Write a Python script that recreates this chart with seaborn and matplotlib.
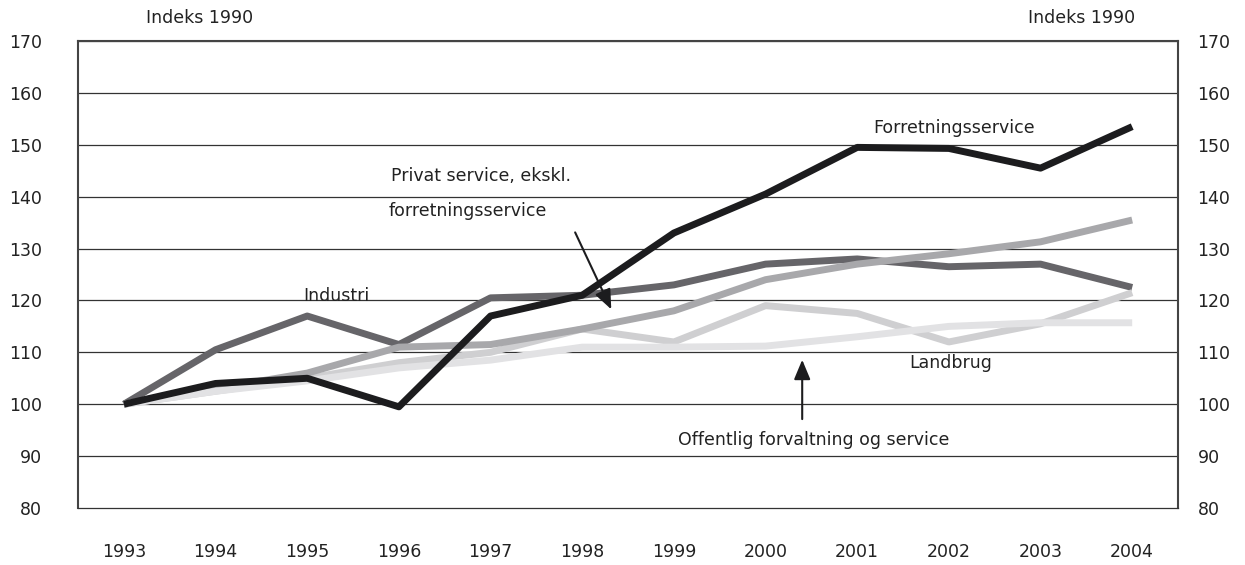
import pandas as pd
import matplotlib.pyplot as plt
import seaborn as sns

# Index 1990 = 100
years = [1993, 1994, 1995, 1996, 1997, 1998, 1999, 2000, 2001, 2002, 2003, 2004]
industri = [100, 110.5, 117, 111.5, 120.5, 121, 123, 127, 128, 126.5, 127, 122.5]
landbrug = [100, 102.5, 105, 108, 110, 114.5, 112, 119, 117.5, 112, 115.5, 121.5]
privat = [100, 103, 106, 111, 111.5, 114.5, 118, 124, 127, 129, 131.3, 135.5]
offentlig = [100, 102.5, 104.5, 107, 108.5, 111, 111, 111.2, 113, 115, 115.7, 115.7]
forretning = [100, 104, 105, 99.5, 117, 121, 133, 140.5, 149.5, 149.3, 145.5, 153.5]

series = {
    "Industri": industri,
    "Landbrug": landbrug,
    "Privat service, ekskl. forretningsservice": privat,
    "Offentlig forvaltning og service": offentlig,
    "Forretningsservice": forretning,
}
colors = ["#666569", "#cfcfd1", "#a8a8ab", "#e2e2e4", "#1c1c1e"]

df = pd.concat(
    [pd.DataFrame({"year": years, "value": vals, "series": name}) for name, vals in series.items()],
    ignore_index=True,
)

sns.set_style("white")
plt.rcParams["font.family"] = ["DejaVu Sans"]
FS = 12.5
TXT = "#222222"

fig = plt.figure(figsize=(12.45, 5.65), dpi=100)
ax = fig.add_axes([0.0627, 0.1009, 0.8835, 0.8265])

sns.lineplot(data=df, x="year", y="value", hue="series", palette=colors,
             linewidth=5, legend=False, ax=ax, solid_capstyle="butt")

ax.set_xlim(1992.5, 2004.5)
ax.set_ylim(80, 170)
ax.set_yticks(range(80, 171, 10))
ax.set_xticks(years)
ax.set_xlabel("")
ax.set_ylabel("")
for y in range(90, 171, 10):
    ax.axhline(y, color="#333333", linewidth=0.9, zorder=0)

for side in ["top", "left", "right"]:
    ax.spines[side].set_color("#444444")
    ax.spines[side].set_linewidth(1.5)
ax.spines["bottom"].set_color("#333333")
ax.spines["bottom"].set_linewidth(0.9)

ax.tick_params(axis="y", length=0, labelsize=FS, pad=26, labelcolor=TXT)
ax.tick_params(axis="x", length=0, labelsize=FS, pad=25, labelcolor=TXT)

# right-hand axis labels (same scale)
ax2 = ax.twinx()
ax2.set_ylim(ax.get_ylim())
ax2.set_yticks(range(80, 171, 10))
ax2.tick_params(axis="y", length=0, labelsize=FS, pad=14, labelcolor=TXT)
for side in ax2.spines.values():
    side.set_visible(False)
ax2.grid(False)

fig.text(0.117, 0.968, "Indeks 1990", fontsize=FS, ha="left", va="center", color=TXT)
fig.text(0.912, 0.968, "Indeks 1990", fontsize=FS, ha="right", va="center", color=TXT)

ax.text(2001.18, 153.2, "Forretningsservice", fontsize=FS, va="center", color=TXT)
ax.text(1995.91, 144.0, "Privat service, ekskl.", fontsize=FS, va="center", color=TXT)
ax.text(1995.89, 137.25, "forretningsservice", fontsize=FS, va="center", color=TXT)
ax.text(1994.96, 120.9, "Industri", fontsize=FS, va="center", color=TXT)
ax.text(2001.57, 107.96, "Landbrug", fontsize=FS, va="center", color=TXT)
ax.text(1999.05, 93.1, "Offentlig forvaltning og service", fontsize=FS, va="center", color=TXT)

ax.annotate("", xy=(1998.33, 117.8), xytext=(1997.91, 133.6),
            arrowprops=dict(arrowstyle="-|>,head_length=1.2,head_width=0.5", color="#1c1c1e", lw=1.5))
ax.annotate("", xy=(2000.40, 109.1), xytext=(2000.40, 96.6),
            arrowprops=dict(arrowstyle="-|>,head_length=1.2,head_width=0.5", color="#1c1c1e", lw=1.5))

fig.savefig("out.png", dpi=100)
